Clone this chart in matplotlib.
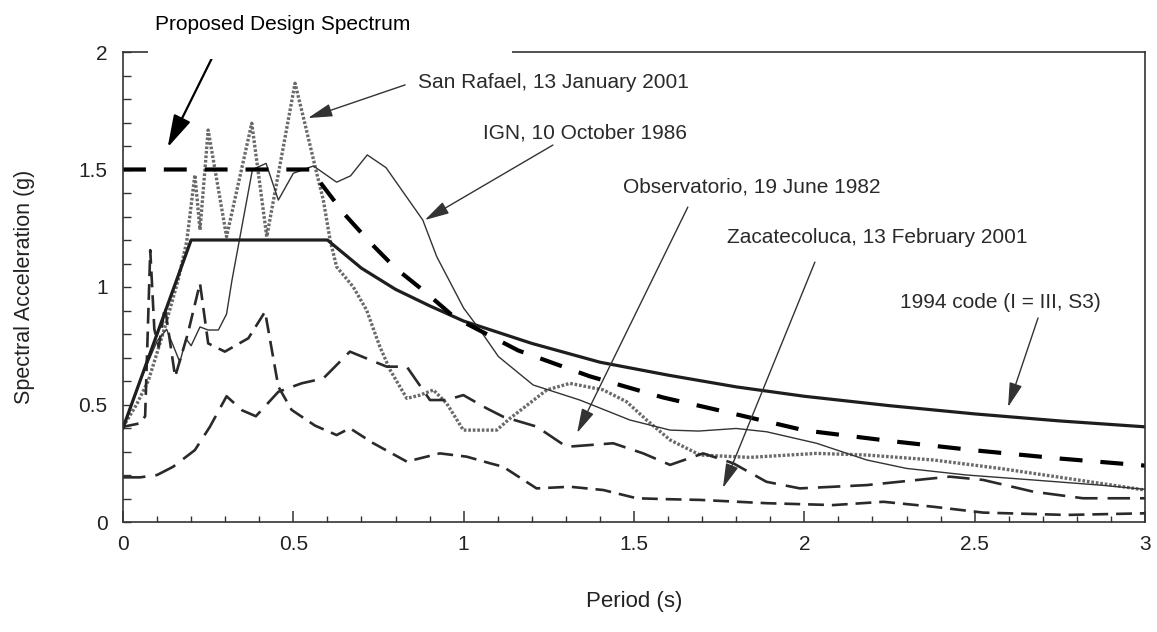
import matplotlib
matplotlib.use('Agg')
import matplotlib.pyplot as plt
from matplotlib.patches import Rectangle

plt.rcParams['font.family'] = ['Liberation Sans', 'DejaVu Sans']

# 1994 code (I = III, S3)
code_T = [0, 0.2, 0.6, 0.7, 0.8, 0.9, 1.0, 1.2, 1.4, 1.6, 1.8, 2.0, 2.25, 2.5, 2.75, 3.0]
code_Sa = [0.40, 1.20, 1.20, 1.08, 0.99, 0.92, 0.855, 0.76, 0.68, 0.625, 0.575, 0.535, 0.495, 0.46, 0.43, 0.405]

# proposed design spectrum
prop_T = [0, 0.55, 0.65, 0.725, 0.8, 0.886, 0.974, 1.16, 1.37, 1.585, 1.78, 2.0, 2.25, 2.5, 2.75, 3.0]
prop_Sa = [1.5, 1.5, 1.31, 1.19, 1.08, 0.98, 0.87, 0.73, 0.62, 0.53, 0.465, 0.39, 0.345, 0.305, 0.27, 0.24]

# San Rafael, 13 January 2001
sr_T = [0, 0.04, 0.074, 0.1, 0.123, 0.162, 0.187, 0.211, 0.226, 0.25, 0.304, 0.378, 0.422, 0.505,
        0.529, 0.564, 0.588, 0.608, 0.627, 0.676, 0.715, 0.754, 0.784, 0.833, 0.872, 0.911, 0.95,
        0.999, 1.097, 1.136, 1.244, 1.312, 1.41, 1.478, 1.537, 1.606, 1.694, 1.84, 2.036, 2.183,
        2.378, 2.574, 2.77, 3.0]
sr_Sa = [0.405, 0.5, 0.6, 0.72, 0.83, 1.03, 1.193, 1.477, 1.243, 1.668, 1.214, 1.697, 1.214, 1.867,
         1.725, 1.512, 1.37, 1.2, 1.086, 1.0, 0.902, 0.746, 0.647, 0.526, 0.54, 0.562, 0.505,
         0.391, 0.391, 0.441, 0.562, 0.59, 0.562, 0.512, 0.434, 0.349, 0.285, 0.275, 0.292, 0.285,
         0.264, 0.228, 0.186, 0.136]

# IGN, 10 October 1986
ign_T = [0, 0.05, 0.1, 0.128, 0.167, 0.185, 0.2, 0.226, 0.25, 0.28, 0.304, 0.32, 0.38, 0.42, 0.456,
         0.5, 0.559, 0.627, 0.668, 0.717, 0.772, 0.88, 0.921, 1.0, 1.048, 1.102, 1.204, 1.341,
         1.488, 1.606, 1.69, 1.8, 1.889, 2.036, 2.183, 2.3, 2.476, 2.67, 2.868, 3.0]
ign_Sa = [0.405, 0.6, 0.77, 0.82, 0.68, 0.78, 0.75, 0.83, 0.817, 0.817, 0.885, 1.03, 1.5, 1.526, 1.37,
          1.484, 1.515, 1.446, 1.473, 1.562, 1.508, 1.285, 1.129, 0.91, 0.817, 0.704, 0.583, 0.519,
          0.434, 0.391, 0.387, 0.398, 0.384, 0.335, 0.264, 0.228, 0.2, 0.179, 0.157, 0.139]

# Observatorio, 19 June 1982
obs_T = [0, 0.05, 0.1, 0.147, 0.211, 0.255, 0.304, 0.35, 0.39, 0.456, 0.524, 0.588, 0.666, 0.774,
         0.833, 0.901, 0.95, 0.999, 1.067, 1.116, 1.214, 1.302, 1.439, 1.527, 1.606, 1.703, 1.791,
         1.889, 1.987, 2.183, 2.427, 2.525, 2.672, 2.818, 3.0]
obs_Sa = [0.19, 0.19, 0.2, 0.235, 0.306, 0.405, 0.535, 0.475, 0.45, 0.554, 0.59, 0.611, 0.725, 0.661,
          0.661, 0.519, 0.519, 0.54, 0.484, 0.448, 0.406, 0.32, 0.335, 0.292, 0.243, 0.292, 0.25,
          0.171, 0.143, 0.157, 0.193, 0.179, 0.129, 0.101, 0.101]

# Zacatecoluca, 13 February 2001
zac_T = [0, 0.05, 0.065, 0.08, 0.092, 0.105, 0.123, 0.153, 0.19, 0.226, 0.25, 0.299, 0.368, 0.417,
         0.456, 0.495, 0.539, 0.564, 0.627, 0.666, 0.735, 0.833, 0.93, 1.009, 1.077, 1.116, 1.214,
         1.312, 1.41, 1.508, 1.6, 1.694, 1.889, 2.085, 2.232, 2.378, 2.525, 2.77, 3.0]
zac_Sa = [0.405, 0.42, 0.45, 1.157, 0.82, 0.746, 0.916, 0.618, 0.8, 1.016, 0.76, 0.725, 0.782, 0.895,
          0.576, 0.477, 0.434, 0.41, 0.37, 0.399, 0.335, 0.257, 0.292, 0.278, 0.25, 0.235, 0.143,
          0.15, 0.136, 0.101, 0.097, 0.094, 0.08, 0.072, 0.086, 0.065, 0.04, 0.03, 0.037]

W, H = 1157, 632
fig = plt.figure(figsize=(W / 100, H / 100), dpi=100)
ax = fig.add_axes([123 / W, 1 - 522 / H, (1145 - 123) / W, (522 - 52) / H])

ax.plot(sr_T, sr_Sa, color='#6a6a6a', lw=2.4, linestyle=(0, (0.8, 0.55)))
ax.plot(ign_T, ign_Sa, color='#333333', lw=1.0)
ax.plot(obs_T, obs_Sa, color='#2a2a2a', lw=1.9, linestyle=(0, (8.5, 3.8)))
ax.plot(zac_T, zac_Sa, color='#2a2a2a', lw=1.9, linestyle=(0, (6, 3)))
ax.plot(code_T, code_Sa, color='#1e1e1e', lw=2.3)
ax.plot(prop_T, prop_Sa, color='black', lw=3.0, linestyle=(0, (5.5, 4.3)))

ax.set_xlim(0, 3)
ax.set_ylim(0, 2)
ax.set_xticks([0, 0.5, 1, 1.5, 2, 2.5, 3])
ax.set_xticklabels(['0', '0.5', '1', '1.5', '2', '2.5', '3'])
ax.set_yticks([0, 0.5, 1, 1.5, 2])
ax.set_yticklabels(['0', '0.5', '1', '1.5', '2'])
ax.set_xticks([i / 10 for i in range(31)], minor=True)
ax.set_yticks([i / 10 for i in range(21)], minor=True)
ax.tick_params(axis='x', which='major', direction='in', length=8, width=1.1, pad=9,
               labelsize=15, colors='#333333', labelcolor='#222222')
ax.tick_params(axis='x', which='minor', direction='in', length=4.3, width=1.0, colors='#333333')
ax.tick_params(axis='y', which='both', direction='in', length=6, width=1.0, pad=11,
               labelsize=15, colors='#333333', labelcolor='#222222')
for s in ax.spines.values():
    s.set_color('#333333')
    s.set_linewidth(1.2)

# white box hiding part of the top frame behind the label
ax.add_patch(Rectangle(((148 - 123) / 1022, 0.985), (512 - 148) / 1022, 0.04,
                       transform=ax.transAxes, facecolor='white', edgecolor='none',
                       clip_on=False, zorder=5))

fig.text(25 / W, 1 - 287 / H, 'Spectral Acceleration (g)', rotation=90, ha='center', va='center',
         fontsize=15.5, color='#222222')
fig.text(634 / W, 1 - 602 / H, 'Period (s)', ha='center', va='center', fontsize=16, color='#222222')

fig.text(283 / W, 1 - 24 / H, 'Proposed Design Spectrum', ha='center', va='center',
         fontsize=15, color='black')
ax.annotate('', xy=(0.131, 1.594), xytext=(0.27, 2.0), annotation_clip=False,
            arrowprops=dict(arrowstyle='-|>,head_length=1.0,head_width=0.28', mutation_scale=20,
                            lw=1.6, color='black', shrinkA=0, shrinkB=0))

labels = [
    ('San Rafael, 13 January 2001', (0.866, 1.872), (0.828, 1.860), (0.543, 1.719)),
    ('IGN, 10 October 1986', (1.057, 1.655), (1.262, 1.604), (0.886, 1.285)),
    ('Observatorio, 19 June 1982', (1.468, 1.426), (1.658, 1.340), (1.333, 0.379)),
    ('Zacatecoluca, 13 February 2001', (1.773, 1.209), (2.031, 1.106), (1.761, 0.145)),
    ('1994 code (I = III, S3)', (2.281, 0.936), (2.686, 0.868), (2.598, 0.489)),
]
for txt, pos, tail, head in labels:
    ax.text(pos[0], pos[1], txt, ha='left', va='center', fontsize=15, color='#2a2a2a')
    ax.annotate('', xy=head, xytext=tail,
                arrowprops=dict(arrowstyle='-|>,head_length=0.75,head_width=0.2', mutation_scale=20,
                                lw=1.0, color='#333333', shrinkA=0, shrinkB=0))

fig.savefig('out.png', dpi=100, facecolor='white')
